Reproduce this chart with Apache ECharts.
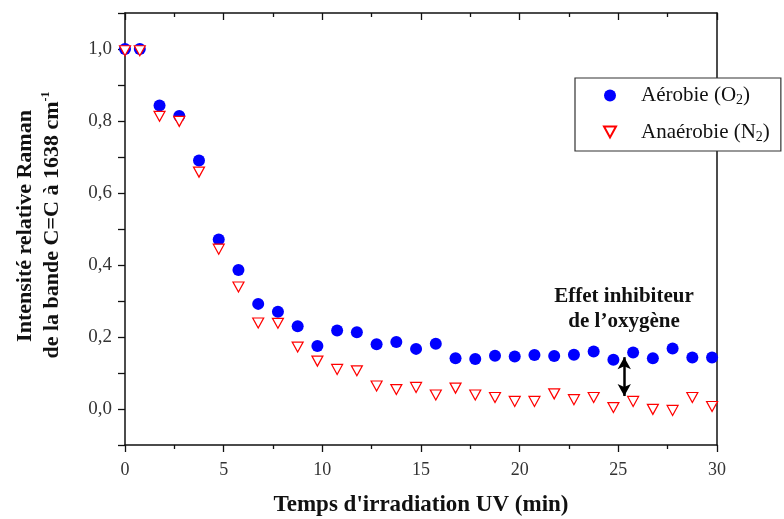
<!DOCTYPE html>
<html>
<head>
<meta charset="utf-8">
<script src="https://cdn.jsdelivr.net/npm/echarts@6/dist/echarts.min.js"></script>
<style>html,body{margin:0;padding:0;background:#fff}#c{width:784px;height:519px}</style>
</head>
<body>
<div id="c"></div>
<script>
// Temps d'irradiation UV (min)
const timeMin = [0, 0.75, 1.75, 2.75, 3.75, 4.75, 5.75, 6.75, 7.75, 8.75, 9.75, 10.75, 11.75, 12.75, 13.75, 14.75, 15.75, 16.75, 17.75, 18.75, 19.75, 20.75, 21.75, 22.75, 23.75, 24.75, 25.75, 26.75, 27.75, 28.75, 29.75];
// Aérobie (O2)
const aerobie = [1.0, 1.0, 0.843, 0.814, 0.69, 0.471, 0.386, 0.292, 0.27, 0.23, 0.175, 0.218, 0.213, 0.18, 0.186, 0.167, 0.181, 0.141, 0.139, 0.148, 0.146, 0.15, 0.147, 0.151, 0.16, 0.137, 0.157, 0.141, 0.168, 0.143, 0.143];
// Anaérobie (N2)
const anaerobie = [0.995, 0.995, 0.813, 0.799, 0.658, 0.444, 0.339, 0.239, 0.238, 0.172, 0.133, 0.11, 0.106, 0.064, 0.054, 0.06, 0.039, 0.058, 0.039, 0.032, 0.021, 0.021, 0.042, 0.026, 0.032, 0.004, 0.021, -0.001, -0.004, 0.032, 0.007];
const xTicks = [0, 5, 10, 15, 20, 25, 30];
const yTickLabels = ['0,0', '0,2', '0,4', '0,6', '0,8', '1,0'];
const arrowX = 25.3, arrowTop = 0.144, arrowBottom = 0.036;

const SERIF = '"Liberation Serif", "Times New Roman", serif';
const chart = echarts.init(document.getElementById('c'), null, {renderer: 'canvas'});

const aeroData = timeMin.map((t, i) => [t, aerobie[i]]);
const anaeroData = timeMin.map((t, i) => [t, anaerobie[i]]);
const triDown = 'path://M0,0 L10,0 L5,9 Z';

const option = {
  animation: false,
  grid: {left: 125, right: 67, top: 13, bottom: 74, containLabel: false, outerBoundsMode: 'none'},
  xAxis: [{
    type: 'value', min: 0, max: 30, interval: 5, position: 'bottom',
    axisLine: {show: true, onZero: false, lineStyle: {color: '#111', width: 1.5}},
    axisTick: {show: true, inside: false, length: 7, lineStyle: {color: '#111', width: 1.3}},
    minorTick: {show: true, splitNumber: 2, length: 4, lineStyle: {color: '#111', width: 1.3}},
    splitLine: {show: false},
    axisLabel: {fontFamily: SERIF, fontSize: 18, color: '#333', margin: 16,
      formatter: v => xTicks.indexOf(v) >= 0 ? String(v) : ''},
    name: "Temps d'irradiation UV (min)", nameLocation: 'middle', nameGap: 49,
    nameTextStyle: {fontFamily: SERIF, fontSize: 23, fontWeight: 'bold', color: '#111'}
  }, {
    type: 'value', min: 0, max: 30, interval: 5, position: 'top',
    axisLine: {show: true, onZero: false, lineStyle: {color: '#111', width: 1.5}},
    axisTick: {show: true, inside: true, length: 7, lineStyle: {color: '#111', width: 1.3}},
    minorTick: {show: true, splitNumber: 2, length: 4, lineStyle: {color: '#111', width: 1.3}},
    splitLine: {show: false},
    axisLabel: {show: false}
  }],
  yAxis: [{
    type: 'value', min: -0.1, max: 1.1, interval: 0.1, position: 'left',
    axisLine: {show: true, onZero: false, lineStyle: {color: '#111', width: 1.5}},
    axisTick: {show: true, inside: false, length: 7, lineStyle: {color: '#111', width: 1.3}},
    splitLine: {show: false},
    axisLabel: {fontFamily: SERIF, fontSize: 19, color: '#333', margin: 13,
      formatter: v => {
        const k = Math.round(v * 10);
        if (k < 0 || k % 2 !== 0) return '';
        return yTickLabels[k / 2] || '';
      }}
  }, {
    type: 'value', min: -0.1, max: 1.1, interval: 0.1, position: 'right',
    axisLine: {show: true, onZero: false, lineStyle: {color: '#111', width: 1.5}},
    axisTick: {show: false}, axisLabel: {show: false}, splitLine: {show: false}
  }],
  legend: {
    orient: 'vertical', left: 575, top: 78,
    padding: [7, 11, 7, 28], itemGap: 14,
    backgroundColor: '#fff', borderColor: '#333', borderWidth: 1.2,
    itemWidth: 12, itemHeight: 12,
    textStyle: {fontFamily: SERIF, fontSize: 21, color: '#111',
      rich: {
        sp: {width: 20},
        a: {fontFamily: SERIF, fontSize: 21, color: '#111'},
        s: {fontFamily: SERIF, fontSize: 14, color: '#111', verticalAlign: 'bottom', padding: [10, 0, 0, 0]}
      }},
    formatter: name => name === 'Aérobie'
      ? '{sp|}{a|Aérobie (O}{s|2}{a|)}'
      : '{sp|}{a|Anaérobie (N}{s|2}{a|)}',
    data: ['Aérobie', 'Anaérobie']
  },
  series: [{
    name: 'Aérobie', type: 'scatter', data: aeroData,
    symbol: 'circle', symbolSize: 12,
    itemStyle: {color: '#0000ff', opacity: 1},
    emphasis: {disabled: true},
    z: 2,
    markLine: {
      silent: true, symbol: ['arrow', 'arrow'], symbolSize: [10, 12],
      label: {show: false},
      lineStyle: {color: '#000', width: 2.5, type: 'solid'},
      emphasis: {disabled: true},
      data: [[{coord: [arrowX, arrowTop]}, {coord: [arrowX, arrowBottom]}]]
    }
  }, {
    name: 'Anaérobie', type: 'scatter', data: anaeroData,
    symbol: triDown, symbolSize: [11, 10],
    itemStyle: {color: '#fff', borderColor: '#ff0000', borderWidth: 1.2, opacity: 1},
    emphasis: {disabled: true},
    z: 3
  }],
  graphic: [{
    type: 'text', x: 25, y: 226, rotation: Math.PI / 2,
    style: {text: 'Intensité relative Raman', font: 'bold 22px ' + SERIF, fill: '#111',
      align: 'center', verticalAlign: 'middle'}
  }, {
    type: 'text', x: 52, y: 225, rotation: Math.PI / 2,
    style: {text: '{a|de la bande C=C à 1638 cm}{s|-1}',
      align: 'center', verticalAlign: 'middle',
      rich: {
        a: {font: 'bold 22px ' + SERIF, fill: '#111'},
        s: {font: 'bold 12px ' + SERIF, fill: '#111', verticalAlign: 'top', padding: [0, 0, 12, 0]}
      }}
  }, {
    type: 'text', x: 624, y: 297,
    style: {text: 'Effet inhibiteur', font: 'bold 21px ' + SERIF, fill: '#111', align: 'center', verticalAlign: 'middle'}
  }, {
    type: 'text', x: 624, y: 322,
    style: {text: 'de l\u2019oxygène', font: 'bold 21px ' + SERIF, fill: '#111', align: 'center', verticalAlign: 'middle'}
  }]
};
chart.setOption(option);
</script>
</body>
</html>
